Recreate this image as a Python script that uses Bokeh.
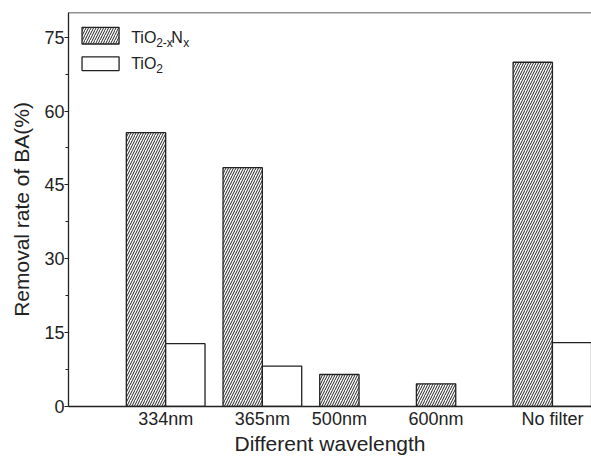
from bokeh.plotting import figure
from bokeh.models import FixedTicker, Span, BoxAnnotation, Label, Range1d
from bokeh.embed import file_html
from bokeh.resources import INLINE

categories = ["334nm", "365nm", "500nm", "600nm", "No filter"]
tio2xnx = [55.6, 48.5, 6.5, 4.6, 69.9]
tio2 = [12.75, 8.2, 0, 0, 12.95]
y_ticks = [0, 15, 30, 45, 60, 75]
x_title = "Different wavelength"
y_title = "Removal rate of BA(%)"

FONT = "Liberation Sans"
INK = "#222222"
BW = 0.407
X0, X1 = -1.005, 4.404
HATCH = dict(hatch_pattern="right_diagonal_line", hatch_scale=5, hatch_weight=1, hatch_color=INK)

xs = list(range(len(categories)))

p = figure(width=591, height=457, x_range=Range1d(X0, X1), y_range=Range1d(0, 80),
           output_backend="svg", toolbar_location=None,
           min_border_left=68, min_border_right=0, min_border_top=12, min_border_bottom=0)
p.outline_line_color = None
p.grid.visible = False
p.background_fill_color = "white"
p.border_fill_color = "white"

# bars
p.vbar(x=[i - BW / 2 for i in xs], width=BW, top=tio2xnx, fill_color="white",
       line_color=INK, line_width=1.3, **HATCH)
t_x = [i + BW / 2 for i, v in zip(xs, tio2) if v > 0]
t_v = [v for v in tio2 if v > 0]
p.vbar(x=t_x, width=BW, top=t_v, fill_color="white", line_color=INK, line_width=1.3)

# top border
p.add_layout(Span(location=80, dimension="width", line_color=INK, line_width=1.3))

# x axis
label_pos = [i if v > 0 else i - BW / 2 for i, v in zip(xs, tio2)]
p.xaxis.ticker = FixedTicker(ticks=label_pos)
p.xaxis.major_label_overrides = {pos: c for pos, c in zip(label_pos, categories)}
p.xaxis.major_tick_out = 0
p.xaxis.major_tick_in = 0
p.xaxis.major_label_standoff = 2
p.xaxis.axis_label = x_title
p.xaxis.axis_label_standoff = 0

# y axis
minor = [(a + b) / 2 for a, b in zip(y_ticks[:-1], y_ticks[1:])]
p.yaxis.ticker = FixedTicker(ticks=y_ticks, minor_ticks=minor)
p.yaxis.major_tick_out = 4
p.yaxis.major_tick_in = 0
p.yaxis.minor_tick_out = 3
p.yaxis.minor_tick_in = 0
p.yaxis.major_label_standoff = 0
p.yaxis.axis_label = y_title
p.yaxis.axis_label_standoff = 8

for ax in (p.xaxis[0], p.yaxis[0]):
    is_y = ax is p.yaxis[0]
    ax.axis_line_color = INK
    ax.axis_line_width = 1.3
    ax.major_tick_line_color = INK if is_y else None
    ax.minor_tick_line_color = INK if is_y else None
    ax.major_label_text_font = FONT
    ax.major_label_text_font_size = "18px"
    ax.major_label_text_color = INK
    ax.axis_label_text_font = FONT
    ax.axis_label_text_font_size = "21px"
    ax.axis_label_text_font_style = "normal"
    ax.axis_label_text_color = INK

# legend (drawn manually to allow subscripts)
p.add_layout(BoxAnnotation(left=-0.865, right=-0.482, bottom=73.6, top=77.0,
                           fill_color="white", fill_alpha=1, line_color=INK, line_width=1.3,
                           line_alpha=1, **HATCH))
p.add_layout(BoxAnnotation(left=-0.865, right=-0.482, bottom=68.2, top=71.0,
                           fill_color="white", fill_alpha=1, line_color=INK, line_width=1.3,
                           line_alpha=1))

def lab(text, y, dx, dy, size):
    p.add_layout(Label(x=-0.357, y=y, x_offset=dx, y_offset=dy, text=text,
                       text_font=FONT, text_font_size=size, text_color=INK,
                       text_baseline="alphabetic", text_align="left"))

lab("TiO", 74.25, 0, 3, "16px")
lab("2-x", 74.25, 25, -2, "12px")
lab("N", 74.25, 40, 3, "16px")
lab("x", 74.25, 52, -2, "12px")
lab("TiO", 69.1, 0, 3, "16px")
lab("2", 69.1, 25, -2, "12px")

open("out.html", "w").write(file_html(p, INLINE))
